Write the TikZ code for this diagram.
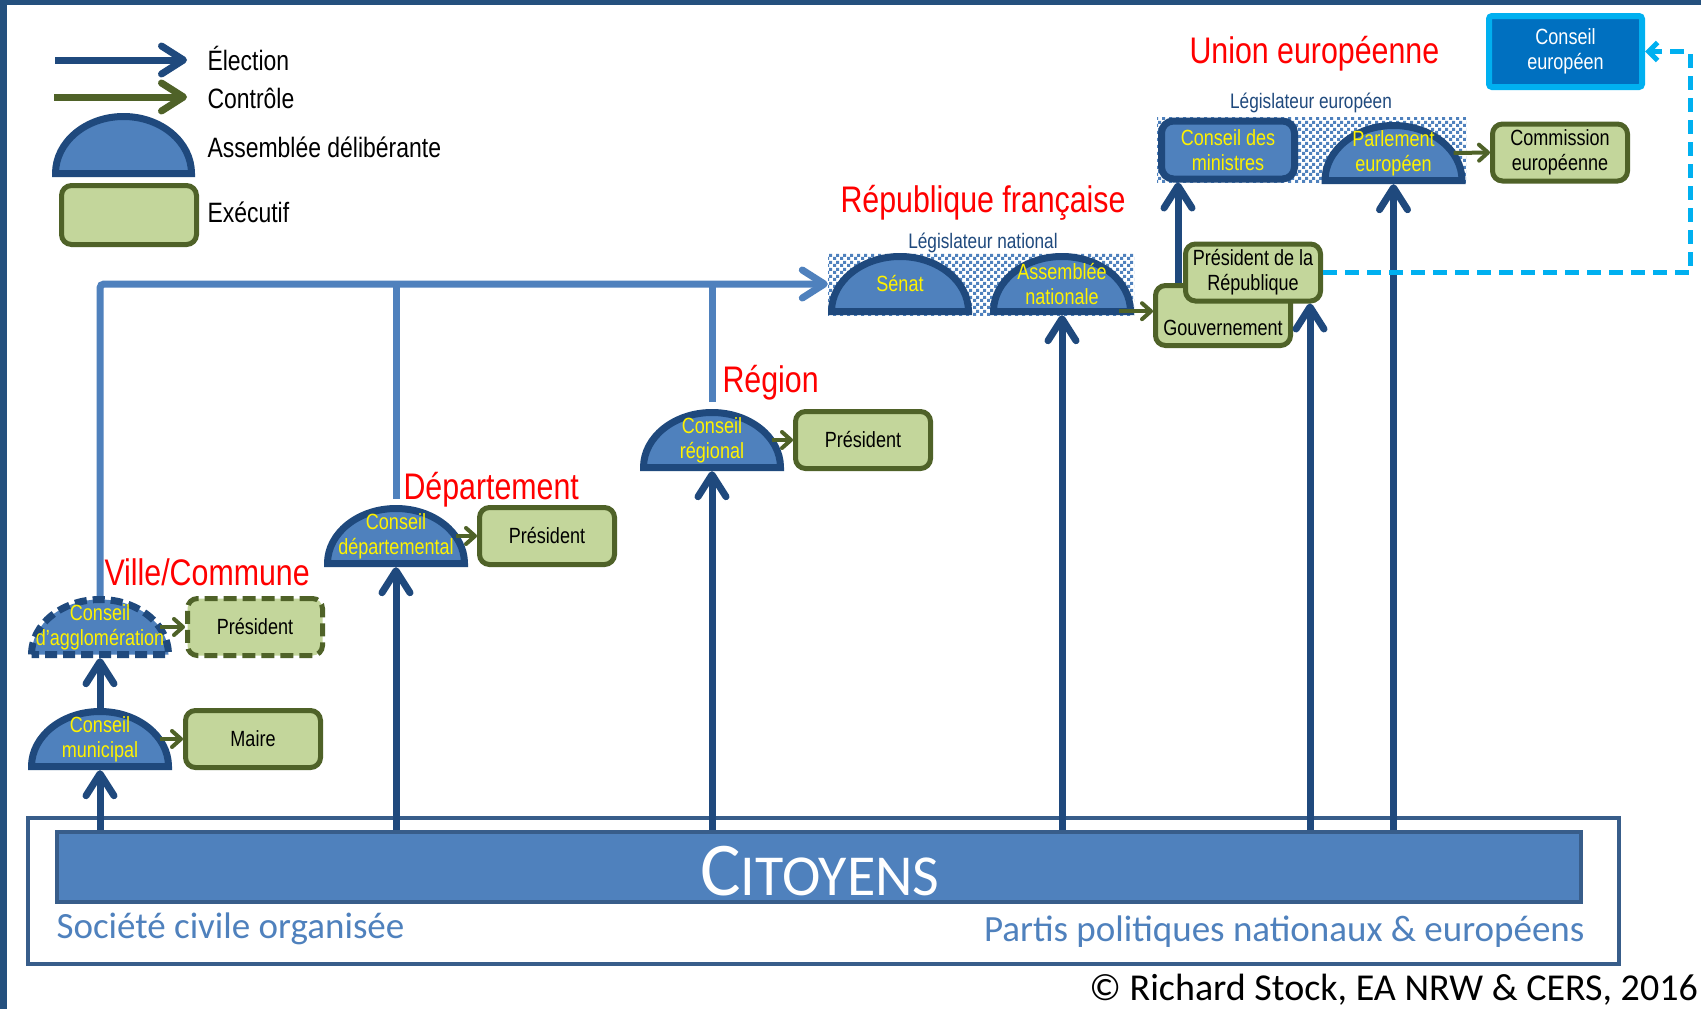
\documentclass[tikz,border=0pt]{standalone}
\usepackage{fontspec}
\setmainfont{Liberation Sans}[FakeStretch=0.82]
\newfontfamily\calfont{Carlito}
\usetikzlibrary{arrows.meta,calc,patterns.meta}

\definecolor{domefill}{HTML}{4F81BD}
\definecolor{domeline}{HTML}{1F497D}
\definecolor{execfill}{HTML}{C3D69B}
\definecolor{execline}{HTML}{4F6228}
\definecolor{citline}{HTML}{385D8A}
\definecolor{eublue}{HTML}{0070C0}
\definecolor{eucyan}{HTML}{00B0F0}
\definecolor{eudark}{HTML}{1F5FA8}
\definecolor{framecol}{HTML}{24507E}

\newcommand\legfont{\fontsize{28}{30}\selectfont}
\newcommand\domefont{\fontsize{22}{25}\selectfont}
\newcommand\levelfont{\fontsize{37}{40}\selectfont}
\newcommand\legisfont{\fontsize{21}{24}\selectfont}
\newcommand\basefont{\calfont\fontsize{37}{40}\selectfont}

\tikzdeclarepattern{
  name=chk,
  type=uncolored,
  bottom left={(0pt,0pt)},
  top right={(7pt,7pt)},
  tile size={(7pt,7pt)},
  code={
    \pgfpathrectangle{\pgfpointorigin}{\pgfqpoint{3.5pt}{3.5pt}}
    \pgfpathrectangle{\pgfqpoint{3.5pt}{3.5pt}}{\pgfqpoint{3.5pt}{3.5pt}}
    \pgfusepath{fill}
  }
}

\begin{document}
\begin{tikzpicture}
  [x=1pt,y=-1pt,
   dome/.style={minimum width=144, minimum height=62, inner sep=1pt, align=center,
     text=yellow, font=\domefont,
     path picture={\filldraw[domeedge] let \p1=(path picture bounding box.south west),
       \p2=(path picture bounding box.north east) in
       (\x1+3.5pt,\y1+3.5pt) arc[start angle=180, end angle=0,
       x radius={(\x2-\x1)/2-3.5pt}, y radius={\y2-\y1-7pt}] -- cycle;}},
   domeedge/.style={draw=domeline, fill=domefill, line width=7pt},
   execbox/.style={draw=execline, fill=execfill, line width=5pt, rounded corners=10pt,
     minimum width=135, minimum height=57, align=center, font=\domefont},
   minbox/.style={draw=domeline, fill=domefill, line width=7pt, rounded corners=12pt,
     minimum width=133, minimum height=58, align=center, text=yellow, font=\domefont},
   cebox/.style={draw=eucyan, fill=eublue, line width=6pt, rounded corners=3pt,
     minimum width=153, minimum height=71, align=center, text=white, font=\domefont,
     path picture={\draw[eudark, line width=2.5pt]
       ([shift={(1.5pt,1.5pt)}]path picture bounding box.south west) rectangle
       ([shift={(-1.5pt,-1.5pt)}]path picture bounding box.north east);}},
   legtext/.style={anchor=base west, font=\legfont},
   level/.style={anchor=base west, text=red, font=\levelfont},
   legis/.style={text=domeline, font=\legisfont},
   basetext/.style={text=domefill, font=\basefont},
   elect/.style={draw=domeline, line width=7pt, -{Straight Barb[length=22pt, width=28pt, round]}},
   ctrl/.style={draw=execline, line width=4pt, -{Straight Barb[length=9pt, width=16pt, round]}},
   feed/.style={draw=domefill, line width=7pt},
   eulink/.style={draw=eucyan, line width=5pt, dash pattern=on 14pt off 8pt,
     -{Straight Barb[length=9pt, width=18pt]}}]

  \useasboundingbox (0,0) rectangle (1701,1009);
  \fill[white] (0,0) rectangle (1701,1009);
  \fill[framecol] (0,0) rectangle (1701,5);
  \fill[framecol] (0,0) rectangle (7,1009);

  % legend
  \coordinate (le-a) at (55,60);
  \coordinate (le-b) at (187,60);
  \coordinate (lc-a) at (54,97);
  \coordinate (lc-b) at (187,97);
  \draw[elect] (le-a) -- (le-b);
  \draw[elect, draw=execline] (lc-a) -- (lc-b);
  \node[dome, minimum width=143, minimum height=64] (legdome) at (123.5,145) {};
  \node[execbox, minimum height=59] (legexec) at (129,215) {};
  \node[legtext] (t-elect) at (204,70) {Élection};
  \node[legtext] (t-ctrl) at (204,108) {Contrôle};
  \node[legtext] (t-dome) at (204,157) {Assemblée délibérante};
  \node[legtext] (t-exec) at (204,222) {Exécutif};

  % citizens
  \node[draw=citline, fill=white, line width=4pt, minimum width=1591, minimum height=146]
    (citbox) at (823.5,891) {};
  \node[draw=citline, fill=domefill, line width=4pt, minimum width=1524, minimum height=70]
    (cit) at (819,867) {};
  \node[anchor=base, text=white, font=\calfont] (cittxt) at (820,895)
    {\fontsize{76}{80}\selectfont C\fontsize{58}{60}\selectfont ITOYENS};
  \node[basetext, anchor=base west] (civil) at (53,938) {Société civile organisée};
  \node[basetext, anchor=base east] (partis) at (1588,941) {Partis politiques nationaux \& européens};
  \node[anchor=base east, inner sep=0pt, font=\calfont\fontsize{38}{40}\selectfont] (copy) at (1698,1000)
    {© Richard Stock, EA NRW \& CERS, 2016};

  % legislators
  \fill[pattern=chk, pattern color=domefill] (828,253) rectangle (1134,315);
  \fill[pattern=chk, pattern color=domefill] (1157,117) rectangle (1466,182);
  \node[legis] (legnat) at (983,243) {Législateur national};
  \node[legis] (legeu) at (1311,103) {Législateur européen};

  % levels
  \node[level] (l-ville) at (101,585) {Ville/Commune};
  \node[level] (l-dep) at (400,499) {Département};
  \node[level] (l-reg) at (719,392) {Région};
  \node[level] (l-rep) at (837,212) {République française};
  \node[level] (l-ue) at (1186,63) {Union européenne};

  % assemblies and executives
  \node[dome] (munic) at (100,739) {Conseil\\municipal};
  \node[dome, domeedge/.append style={dash pattern=on 12pt off 6pt}] (agglo) at (100,627)
    {Conseil\\d’agglomération};
  \node[execbox] (maire) at (253,739) {Maire};
  \node[execbox, dash pattern=on 13pt off 6pt] (aggpres) at (255,627) {Président};
  \node[dome] (dep) at (396,536) {Conseil\\départemental};
  \node[execbox] (deppres) at (547,536) {Président};
  \node[dome] (reg) at (712,440) {Conseil\\régional};
  \node[execbox] (regpres) at (863,440) {Président};
  \node[dome] (senat) at (900,284) {Sénat};
  \node[dome] (an) at (1062,284) {Assemblée\\nationale};
  \node[execbox, minimum height=60] (gouv) at (1223,315.5) {};
  \node[font=\domefont] (gouvtxt) at (1223,328) {Gouvernement};
  \node[minbox] (consmin) at (1228,150) {Conseil des\\ministres};
  \node[dome] (parl) at (1393.5,153) {Parlement\\européen};
  \node[execbox] (comm) at (1560,152.5) {Commission\\européenne};
  \node[cebox] (conseu) at (1565.5,51.5) {Conseil\\européen};

  % election
  \coordinate (gouvup) at ([xshift=-45pt]gouv.north);
  \draw[elect] (gouvup) -- (gouvup |- consmin.south);
  \node[execbox] (pdr) at (1253,272.5) {Président de la\\République};
  \coordinate (pdrin) at ([xshift=57pt]pdr.south);
  \foreach \n in {munic,dep,reg,an,parl}
    \draw[elect] (\n.south |- cit.north) -- (\n.south);
  \draw[elect] (pdrin |- cit.north) -- (pdrin);
  \draw[elect] (munic.north) -- (agglo.south);

  % indirect election of the senate
  \draw[feed, rounded corners=4pt, -{Straight Barb[length=22pt, width=28pt, round]}]
    (agglo.north) |- (senat.west);
  \foreach \n/\g in {dep/6,reg/7}
    \draw[feed] ([yshift=\g pt]\n.north) -- (\n.north |- senat.west);

  % control
  \foreach \from/\to in {munic/maire,agglo/aggpres,dep/deppres,reg/regpres,parl/comm}
    \draw[ctrl] ([xshift=-12pt]\from.east) -- (\to.west);
  \coordinate (anout) at ([shift={(-15pt,4pt)}]an.south east);
  \draw[ctrl] (anout) -- (anout -| gouv.west);

  \coordinate (euedge) at (1690,51.5);
  \draw[eulink] (pdr.east) -| (euedge) -- (conseu.east);
\end{tikzpicture}
\end{document}
